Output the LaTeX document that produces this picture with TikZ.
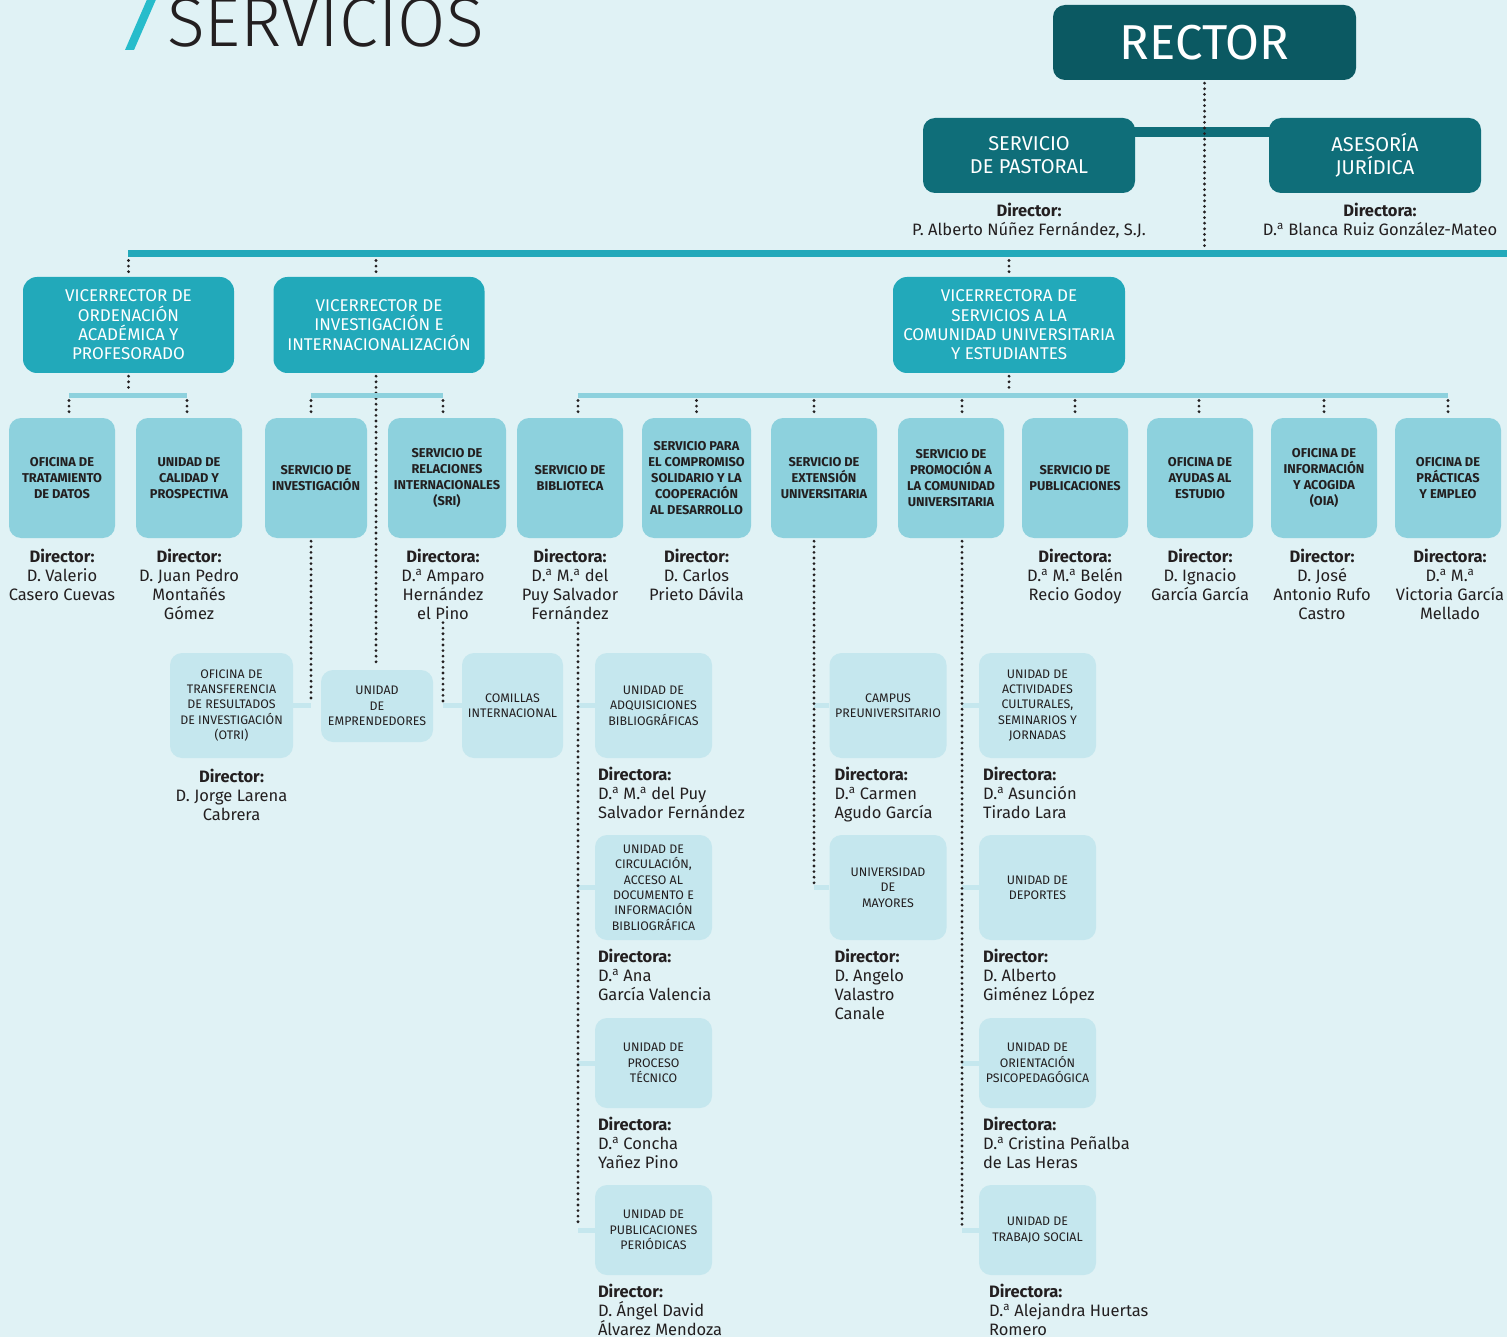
\documentclass[tikz,border=0pt]{standalone}
\usepackage{fontspec}
\setmainfont{Fira Sans}
\newfontfamily\ortitlefont{Fira Sans Light}
\usepackage{xcolor}
\definecolor{orbg}{HTML}{E0F2F5}
\definecolor{orink}{HTML}{231F20}
\definecolor{ordeep}{HTML}{0B5962}
\definecolor{ordark}{HTML}{0F6E79}
\definecolor{orcyan}{HTML}{22A9BA}
\definecolor{orsky}{HTML}{8DD1DD}
\definecolor{orpale}{HTML}{C5E7EE}
\definecolor{orslash}{HTML}{27BCCB}
\usetikzlibrary{positioning,calc}
\newcommand{\ordna}{D.\textsuperscript{a}}
\newcommand{\ormna}{M.\textsuperscript{a}}
\tikzset{
  orbox/.style   ={rectangle, rounded corners=12pt, inner sep=2pt, align=center, text=white},
  orrector/.style={orbox, fill=ordeep, minimum width=303pt, minimum height=75pt,
                   font=\fontsize{49}{49}\selectfont},
  orhead/.style  ={orbox, fill=ordark, minimum width=212pt, minimum height=75pt,
                   font=\fontsize{20}{23}\selectfont},
  orvice/.style  ={orbox, fill=orcyan, minimum width=211pt, minimum height=96pt,
                   rounded corners=14pt, font=\fontsize{17}{19.4}\selectfont},
  orsvc/.style   ={orbox, fill=orsky, text=orink, minimum width=106pt, minimum height=120pt,
                   inner sep=1pt, font=\fontsize{12.8}{16}\selectfont\bfseries},
  orunit/.style  ={orbox, fill=orpale, text=orink, minimum width=117pt, minimum height=105pt,
                   font=\fontsize{12.4}{15.4}\selectfont},
  orwho/.style   ={inner sep=0pt, text=orink, font=\fontsize{16.5}{18.8}\selectfont},
  ortitle/.style ={anchor=base west, inner sep=0pt, text=orink,
                   font=\ortitlefont\fontsize{70}{70}\selectfont},
  ortop/.style   ={line width=7pt, draw=orcyan},
  orjoin/.style  ={line width=10pt, draw=ordark},
  orsub/.style   ={line width=5pt, draw=orsky},
  orlink/.style  ={line width=5pt, draw=orpale},
  ordots/.style  ={draw=orink, line width=3.1pt, line cap=round, dash pattern=on 0pt off 5.6pt,
                   shorten <=3pt, shorten >=3pt},
}

\begin{document}
\begin{tikzpicture}[x=1pt, y=-1pt]
  \useasboundingbox (0,0) rectangle (1507,1337);
  \clip (0,0) rectangle (1507,1337);
  \fill[orbg] (0,0) rectangle (1507,1337);
  % title
  \fill[orslash] (125,50) -- (134,50) -- (161,-12) -- (152,-12) -- cycle;
  \node[ortitle] (title) at (167,47) {SERVICIOS};
  % rector and the two services next to it
  \node[orrector] (rec) at (1204.5,42.5) {RECTOR};
  \node[orhead] (pas) at (1029,155.5) {SERVICIO\\DE PASTORAL};
  \node[orhead] (ase) at (1375,155.5) {ASESORÍA\\JURÍDICA};
  \draw[orjoin] ([xshift=-8pt,yshift=-14pt]pas.north east) -- ([xshift=8pt,yshift=-14pt]ase.north west);
  \node[orwho, align=center, anchor=north] (pasw) at ([yshift=-10pt]pas.south)
    {\textbf{Director:}\\P. Alberto Núñez Fernández, S.J.};
  \node[orwho, align=center, anchor=north] (asew) at ([xshift=5pt,yshift=-10pt]ase.south)
    {\textbf{Directora:}\\\ordna{} Blanca Ruiz González-Mateo};
  \coordinate (barL) at (128,254);
  \coordinate (barR) at (1507,254);
  \coordinate (barT) at (0,250.5);
  \coordinate (barB) at (0,257.5);
  \draw[ortop] (barL) -- (barR);
  \draw[ordots] (rec.south) -- (rec.south |- barT);
  % vicerrectorados
  \node[orvice] (v1) at (128.5,325) {VICERRECTOR DE\\ORDENACIÓN\\ACADÉMICA Y\\PROFESORADO};
  \node[orvice] (v2) at (379,325) {VICERRECTOR DE\\INVESTIGACIÓN E\\INTERNACIONALIZACIÓN};
  \node[orvice, minimum width=232pt] (v3) at (1009,325)
    {VICERRECTORA DE\\SERVICIOS A LA\\COMUNIDAD UNIVERSITARIA\\Y ESTUDIANTES};
  \coordinate (xv1) at (v1.north);
  \coordinate (xv2) at ([xshift=-3pt]v2.north);
  \coordinate (xv3) at (v3.north);
  \foreach \v in {xv1,xv2,xv3}{\draw[ordots] (\v |- barB) -- (\v);}
  \coordinate (subT) at (0,392.5);
  \coordinate (subM) at (0,395);
  \coordinate (subB) at (0,397.5);
  % services
  \node[orsvc] (trat) at (62,478) {OFICINA DE\\TRATAMIENTO\\DE DATOS};
  \node[orsvc] (cal) at (189,478) {UNIDAD DE\\CALIDAD Y\\PROSPECTIVA};
  \node[orsvc, minimum width=102pt] (inv) at (316,478) {SERVICIO DE\\INVESTIGACIÓN};
  \node[orsvc, minimum width=118pt] (sri) at (447,478) {SERVICIO DE\\RELACIONES\\INTERNACIONALES\\(SRI)};
  \node[orsvc] (bib) at (570,478) {SERVICIO DE\\BIBLIOTECA};
  \node[orsvc, minimum width=109pt] (sol) at (696.5,478)
    {SERVICIO PARA\\EL COMPROMISO\\SOLIDARIO Y LA\\COOPERACIÓN\\AL DESARROLLO};
  \node[orsvc] (ext) at (824,478) {SERVICIO DE\\EXTENSIÓN\\UNIVERSITARIA};
  \node[orsvc] (pro) at (951,478) {SERVICIO DE\\PROMOCIÓN A\\LA COMUNIDAD\\UNIVERSITARIA};
  \node[orsvc] (pub) at (1075,478) {SERVICIO DE\\PUBLICACIONES};
  \node[orsvc] (ayu) at (1200,478) {OFICINA DE\\AYUDAS AL\\ESTUDIO};
  \node[orsvc] (oia) at (1324,478) {OFICINA DE\\INFORMACIÓN\\Y ACOGIDA\\(OIA)};
  \node[orsvc] (pra) at (1448,478) {OFICINA DE\\PRÁCTICAS\\Y EMPLEO};
  \foreach \n/\s in {trat/7, cal/-2, inv/-5, sri/-4, bib/8, sol/0, ext/-10, pro/11,
                     pub/0, ayu/-1, oia/0, pra/0}{
    \coordinate (x\n) at ([xshift=\s pt]\n.north);
    \draw[ordots] (x\n |- subB) -- (x\n);
  }
  \draw[ordots] (v1.south) -- (v1.south |- subT);
  \draw[ordots] (v3.south) -- (v3.south |- subT);
  % heads of the services
  \node[orwho, align=center, anchor=north] (tratw) at ([yshift=-11pt]trat.south)
    {\textbf{Director:}\\D. Valerio\\Casero Cuevas};
  \node[orwho, align=center, anchor=north] (calw) at ([yshift=-11pt]cal.south)
    {\textbf{Director:}\\D. Juan Pedro\\Montañés\\Gómez};
  \node[orwho, align=center, anchor=north] (sriw) at ([xshift=-4pt,yshift=-11pt]sri.south)
    {\textbf{Directora:}\\\ordna{} Amparo\\Hernández\\el Pino};
  \node[orwho, align=center, anchor=north] (bibw) at ([yshift=-11pt]bib.south)
    {\textbf{Directora:}\\\ordna{} \ormna{} del\\Puy Salvador\\Fernández};
  \node[orwho, align=center, anchor=north] (solw) at ([yshift=-11pt]sol.south)
    {\textbf{Director:}\\D. Carlos\\Prieto Dávila};
  \node[orwho, align=center, anchor=north] (pubw) at ([yshift=-11pt]pub.south)
    {\textbf{Directora:}\\\ordna{} \ormna{} Belén\\Recio Godoy};
  \node[orwho, align=center, anchor=north] (ayuw) at ([yshift=-11pt]ayu.south)
    {\textbf{Director:}\\D. Ignacio\\García García};
  \node[orwho, align=center, anchor=north] (oiaw) at ([xshift=-2pt,yshift=-11pt]oia.south)
    {\textbf{Director:}\\D. José\\Antonio Rufo\\Castro};
  \node[orwho, align=center, anchor=north] (praw) at ([xshift=2pt,yshift=-11pt]pra.south)
    {\textbf{Directora:}\\\ordna{} \ormna{}\\Victoria García\\Mellado};
  % units
  \node[orunit, minimum width=123pt] (otri) at (231.5,705.5)
    {OFICINA DE\\TRANSFERENCIA\\DE RESULTADOS\\DE INVESTIGACIÓN\\(OTRI)};
  \node[orunit, minimum width=112pt, minimum height=72pt] (emp) at (377,706) {UNIDAD\\DE\\EMPRENDEDORES};
  \node[orunit, minimum width=101pt] (com) at (512.5,705.5) {COMILLAS\\INTERNACIONAL};
  \node[orunit] (bu1) at (653.5,705.5) {UNIDAD DE\\ADQUISICIONES\\BIBLIOGRÁFICAS};
  \node[orunit] (bu2) at (653.5,887.5)
    {UNIDAD DE\\CIRCULACIÓN,\\ACCESO AL\\DOCUMENTO E\\INFORMACIÓN\\BIBLIOGRÁFICA};
  \node[orunit, minimum height=90pt] (bu3) at (653.5,1063) {UNIDAD DE\\PROCESO\\TÉCNICO};
  \node[orunit, minimum height=90pt] (bu4) at (653.5,1230) {UNIDAD DE\\PUBLICACIONES\\PERIÓDICAS};
  \node[orunit] (eu1) at (888,705.5) {CAMPUS\\PREUNIVERSITARIO};
  \node[orunit] (eu2) at (888,887.5) {UNIVERSIDAD\\DE\\MAYORES};
  \node[orunit] (pu1) at (1037.5,705.5) {UNIDAD DE\\ACTIVIDADES\\CULTURALES,\\SEMINARIOS Y\\JORNADAS};
  \node[orunit] (pu2) at (1037.5,887.5) {UNIDAD DE\\DEPORTES};
  \node[orunit, minimum height=90pt] (pu3) at (1037.5,1063) {UNIDAD DE\\ORIENTACIÓN\\PSICOPEDAGÓGICA};
  \node[orunit, minimum height=90pt] (pu4) at (1037.5,1230) {UNIDAD DE\\TRABAJO SOCIAL};
  % heads of the units
  \node[orwho, align=center, anchor=north] (otriw) at ([yshift=-11pt]otri.south)
    {\textbf{Director:}\\D. Jorge Larena\\Cabrera};
  \node[orwho, align=left, anchor=north west] (bu1w) at ([xshift=3pt,yshift=-9pt]bu1.south west)
    {\textbf{Directora:}\\\ordna{} \ormna{} del Puy\\Salvador Fernández};
  \node[orwho, align=left, anchor=north west] (bu2w) at ([xshift=3pt,yshift=-9pt]bu2.south west)
    {\textbf{Directora:}\\\ordna{} Ana\\García Valencia};
  \node[orwho, align=left, anchor=north west] (bu3w) at ([xshift=3pt,yshift=-9pt]bu3.south west)
    {\textbf{Directora:}\\\ordna{} Concha\\Yañez Pino};
  \node[orwho, align=left, anchor=north west] (bu4w) at ([xshift=3pt,yshift=-9pt]bu4.south west)
    {\textbf{Director:}\\D. Ángel David\\Álvarez Mendoza};
  \node[orwho, align=left, anchor=north west] (eu1w) at ([xshift=5pt,yshift=-9pt]eu1.south west)
    {\textbf{Directora:}\\\ordna{} Carmen\\Agudo García};
  \node[orwho, align=left, anchor=north west] (eu2w) at ([xshift=5pt,yshift=-9pt]eu2.south west)
    {\textbf{Director:}\\D. Angelo\\Valastro\\Canale};
  \node[orwho, align=left, anchor=north west] (pu1w) at ([xshift=4pt,yshift=-9pt]pu1.south west)
    {\textbf{Directora:}\\\ordna{} Asunción\\Tirado Lara};
  \node[orwho, align=left, anchor=north west] (pu2w) at ([xshift=4pt,yshift=-9pt]pu2.south west)
    {\textbf{Director:}\\D. Alberto\\Giménez López};
  \node[orwho, align=left, anchor=north west] (pu3w) at ([xshift=4pt,yshift=-9pt]pu3.south west)
    {\textbf{Directora:}\\\ordna{} Cristina Peñalba\\de Las Heras};
  \node[orwho, align=left, anchor=north west] (pu4w) at ([xshift=10pt,yshift=-9pt]pu4.south west)
    {\textbf{Directora:}\\\ordna{} Alejandra Huertas\\Romero};
  % links to the units
  \draw[orlink] (otri.east) -- (xinv |- otri.east);
  \draw[orlink] (com.west) -- (xsri |- com.west);
  \foreach \u in {bu1,bu2,bu3,bu4}{\draw[orlink] (\u.west) -- (xbib |- \u.west);}
  \foreach \u in {eu1,eu2}{\draw[orlink] (\u.west) -- (xext |- \u.west);}
  \foreach \u in {pu1,pu2,pu3,pu4}{\draw[orlink] (\u.west) -- (xpro |- \u.west);}
  \draw[ordots] (xinv |- inv.south) -- (xinv |- otri.east);
  \draw[ordots] (xv2 |- v2.south) -- (xv2 |- emp.north);
  \draw[ordots] (xsri |- sriw.south) -- (xsri |- com.west);
  \draw[ordots] (xbib |- bibw.south) -- (xbib |- bu4.west);
  \draw[ordots] (xext |- ext.south) -- (xext |- eu2.west);
  \draw[ordots] (xpro |- pro.south) -- (xpro |- pu4.west);
  % branch bars
  \draw[orsub] (xtrat |- subM) -- (xcal |- subM);
  \draw[orsub] (xinv |- subM) -- (xsri |- subM);
  \draw[orsub] (xbib |- subM) -- (xpra |- subM);
\end{tikzpicture}
\end{document}
